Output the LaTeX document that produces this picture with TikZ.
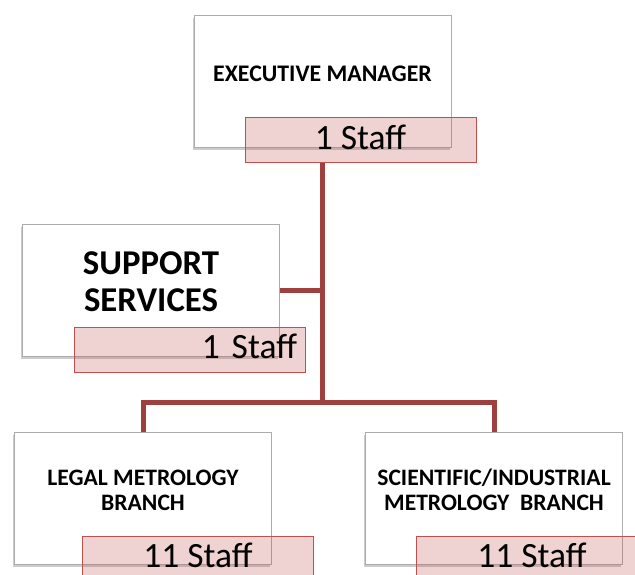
\documentclass[tikz,border=0pt]{standalone}
\usepackage{fontspec}
\setmainfont{Carlito}
\usetikzlibrary{shadows}
\definecolor{linkred}{RGB}{160,64,62}
\definecolor{staffred}{RGB}{192,80,77}

\begin{document}
\begin{tikzpicture}[x=1pt, y=-1pt,
    unit/.style={draw=gray!65, line width=1pt, fill=white, inner sep=0pt,
      minimum width=257pt, minimum height=132pt,
      drop shadow={shadow xshift=-1.5pt, shadow yshift=-2.5pt, opacity=0.4}},
    staff/.style={draw=staffred, line width=1pt, fill=staffred, fill opacity=0.25,
      text opacity=1, inner sep=0pt, minimum width=231pt, minimum height=45pt,
      text height=18pt, text depth=0pt, font=\fontsize{35.5}{40}\selectfont},
    title/.style={align=center, font=\bfseries\fontsize{23.8}{25}\selectfont},
    link/.style={draw=linkred, line width=5pt}]
  \useasboundingbox (0,0) rectangle (635,575);
  \clip (0,0) rectangle (635,575);

  % units
  \node[unit] (exec) at (322.5,82) {};
  \node[unit] (support) at (151,290.5) {};
  \node[unit] (legal) at (143,498) {};
  \node[unit] (sci) at (494,498) {};

  \node[title] (exectitle) at ([yshift=8pt]exec.center) {EXECUTIVE MANAGER};
  \node[title, font=\bfseries\fontsize{34.8}{37}\selectfont] (supporttitle)
    at ([yshift=9pt]support.center) {SUPPORT\\SERVICES};
  \node[title, font=\bfseries\fontsize{23.6}{25}\selectfont] (legaltitle)
    at ([yshift=8pt]legal.center) {LEGAL METROLOGY\\BRANCH};
  \node[title, font=\bfseries\fontsize{23.6}{25}\selectfont] (scititle)
    at ([yshift=8pt]sci.center) {SCIENTIFIC/INDUSTRIAL\\METROLOGY\ \ BRANCH};

  % staff counts
  \node[staff] (execstaff) at (360.5,140.5) {1 Staff};
  \node[staff, text width=215pt, align=right] (supportstaff) at (189.5,349.5) {1 Staff};
  \node[staff] (legalstaff) at (198,558.5) {11 Staff};
  \node[staff] (scistaff) at (532,558.5) {11 Staff};

  % lines
  \coordinate (fork) at (322.5,402);
  \draw[link] (exec.south |- execstaff.south) -- (fork);
  \draw[link] (support.east) -- (support.east -| fork);
  \draw[link] (legal.north) |- (fork) -| (sci.north);
\end{tikzpicture}
\end{document}
